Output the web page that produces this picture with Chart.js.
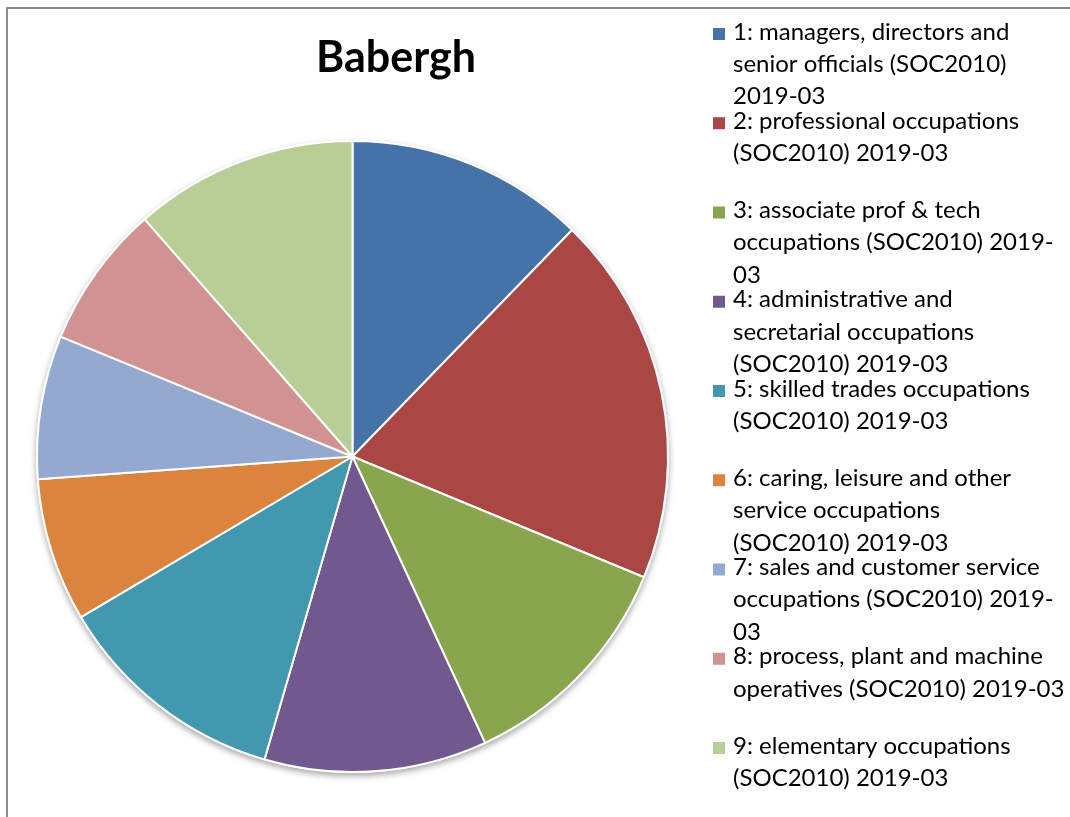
<!DOCTYPE html>
<html>
<head>
<meta charset="utf-8">
<script src="https://cdn.jsdelivr.net/npm/chart.js@4"></script>
<style>
  html, body { margin: 0; padding: 0; background: #fff; }
  #wrap { width: 1070px; height: 817px; position: relative; }
</style>
</head>
<body>
<div id="wrap"><canvas id="pieChart" width="1070" height="817"></canvas></div>
<script>
// === DATA ===
const chartTitle = 'Babergh';

const categories = [
    '1: managers, directors and senior officials (SOC2010) 2019-03',
    '2: professional occupations (SOC2010) 2019-03',
    '3: associate prof & tech occupations (SOC2010) 2019-03',
    '4: administrative and secretarial occupations (SOC2010) 2019-03',
    '5: skilled trades occupations (SOC2010) 2019-03',
    '6: caring, leisure and other service occupations (SOC2010) 2019-03',
    '7: sales and customer service occupations (SOC2010) 2019-03',
    '8: process, plant and machine operatives (SOC2010) 2019-03',
    '9: elementary occupations (SOC2010) 2019-03'
];

// share of employment, %
const shares = [12.25, 19.0, 11.85, 11.4, 12.0, 7.35, 7.35, 7.35, 11.45];

// legend wrapping as it appears in the picture
const legendLines = [
    ['1: managers, directors and', 'senior officials (SOC2010)', '2019-03'],
    ['2: professional occupations', '(SOC2010) 2019-03'],
    ['3: associate prof & tech', 'occupations (SOC2010) 2019-', '03'],
    ['4: administrative and', 'secretarial occupations', '(SOC2010) 2019-03'],
    ['5: skilled trades occupations', '(SOC2010) 2019-03'],
    ['6: caring, leisure and other', 'service occupations', '(SOC2010) 2019-03'],
    ['7: sales and customer service', 'occupations (SOC2010) 2019-', '03'],
    ['8: process, plant and machine', 'operatives (SOC2010) 2019-03'],
    ['9: elementary occupations', '(SOC2010) 2019-03']
];

const COLORS = ['#4572A7', '#AA4643', '#89A54E', '#71588F', '#4198AF', '#DB843D', '#93A9CF', '#D19392', '#B9CD96'];

// === DECORATIONS (frame, title, legend, shadow) ===
const decorPlugin = {
    id: 'decor',
    beforeDraw(chart) {
        const c = chart.ctx;
        c.save();
        c.fillStyle = '#fff';
        c.fillRect(0, 0, chart.width, chart.height);
        c.strokeStyle = '#8c8c8c';
        c.lineWidth = 2;
        c.beginPath();
        c.moveTo(7, chart.height);
        c.lineTo(7, 8);
        c.lineTo(chart.width, 8);
        c.stroke();
        c.restore();
    },
    beforeDatasetsDraw(chart) {
        const arc = chart.getDatasetMeta(0).data[0];
        if (!arc) return;
        const c = chart.ctx;
        c.save();
        c.shadowColor = 'rgba(0,0,0,0.35)';
        c.shadowBlur = 6;
        c.shadowOffsetY = 3;
        c.fillStyle = '#fff';
        c.beginPath();
        c.arc(arc.x, arc.y, arc.outerRadius + 1, 0, Math.PI * 2);
        c.fill();
        c.restore();
    },
    afterDraw(chart) {
        const c = chart.ctx;
        c.save();
        c.fillStyle = '#000';
        c.textBaseline = 'alphabetic';
        c.textAlign = 'center';
        c.font = 'bold 43px Lato';
        c.fillText(chartTitle, 396, 72);

        c.textAlign = 'left';
        c.font = '24px Lato';
        legendLines.forEach((lines, i) => {
            const base = 39.5 + i * 89.25;
            c.fillStyle = COLORS[i];
            c.fillRect(713, base - 11.5, 12, 12);
            c.fillStyle = '#000';
            lines.forEach((t, k) => c.fillText(t, 733, base + k * 32.4));
        });
        c.restore();
    }
};

// === PIE ===
const ctx = document.getElementById('pieChart').getContext('2d');
new Chart(ctx, {
    type: 'pie',
    data: {
        labels: categories,
        datasets: [{ data: shares, backgroundColor: COLORS, borderColor: '#fff', borderWidth: 2 }]
    },
    options: {
        responsive: false, animation: false,
        layout: { padding: { left: 36, right: 401, top: 140, bottom: 44 } },
        plugins: { legend: { display: false }, title: { display: false }, tooltip: { enabled: false } }
    },
    plugins: [decorPlugin]
});
</script>
</body>
</html>
